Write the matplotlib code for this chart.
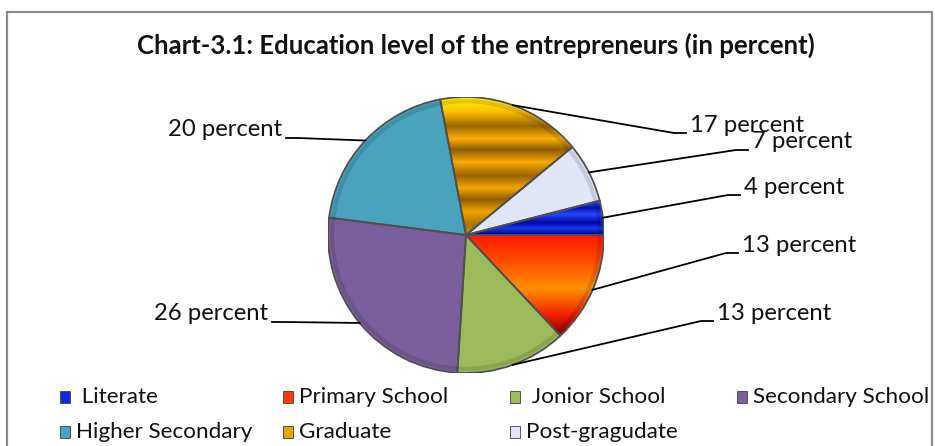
import numpy as np
import matplotlib
matplotlib.use("Agg")
import matplotlib.pyplot as plt
from matplotlib.patches import Rectangle, Wedge
from matplotlib.lines import Line2D
from matplotlib.colors import to_rgb

plt.rcParams['font.family'] = ['Lato', 'DejaVu Sans']

# Data
categories = ["Literate", "Primary School", "Jonior School", "Secondary School",
              "Higher Secondary", "Graduate", "Post-gragudate"]
legend_labels = [" Literate", "Primary School", " Jonior School", "Secondary School",
                 "Higher Secondary", "Graduate", "Post-gragudate"]
percent = [4, 13, 13, 26, 20, 17, 7]
title = "Chart-3.1: Education level of the entrepreneurs (in percent)"

# Style
colors = ["#1028e0", "#ff3a00", "#9bbb59", "#7b5f9c", "#4aa3bd", "#e8a400", "#e0e5f7"]
W, H = 935, 446
CX, CY, R = 466, 235, 138

# label text anchor (x, y centre) in pixels, and side
label_pos = [(744, 187, "left"), (742, 245, "left"), (717, 313, "left"),
             (268, 314, "right"), (282, 130, "right"), (690, 125, "left"),
             (752, 142, "left")]

# vertical colour stops (data y -> colour) for the shaded slices
shading = {
    0: [(0.25, "#4060ff"), (0.20, "#0010b8"), (0.15, "#2848ff"), (0.09, "#0008a0"),
        (0.05, "#1838f0"), (0.0, "#000080")],
    1: [(0.0, "#ff1800"), (-0.2, "#ff5000"), (-0.39, "#ff9000"), (-0.58, "#f02000"),
        (-0.73, "#8a0000")],
    5: [(1.0, "#fff200"), (0.9, "#ffc400"), (0.79, "#9a6600"), (0.7, "#ffb000"),
        (0.62, "#8c5c00"), (0.53, "#f8aa00"), (0.43, "#9a6400"), (0.34, "#f4a600"),
        (0.26, "#8e5e00"), (0.17, "#f0a400"), (0.07, "#a87000"), (0.0, "#d89600")],
}

fig = plt.figure(figsize=(W / 100, H / 100), dpi=100)


def fig_xy(px, py):
    return px / W, 1 - py / H


# outer frame
fig.add_artist(Rectangle((7 / W, -0.1), 925 / W, 1.1 - 12 / H, transform=fig.transFigure,
                         fill=False, edgecolor="#8c8c8c", linewidth=1.6))

fig.text(476 / W, 1 - 45 / H, title, ha="center", va="center",
         fontsize=18.5, fontweight="bold", color="#111111")

ax = fig.add_axes([(CX - R) / W, 1 - (CY + R) / H, 2 * R / W, 2 * R / H])
start = percent[0] / sum(percent) * 360
wedges, _ = ax.pie(percent, startangle=start, counterclock=False, colors=colors,
                   wedgeprops=dict(edgecolor="none"))

# shaded fills clipped to their slices
ys = np.linspace(1, -1, 400)
for i, stops in shading.items():
    sy = [s[0] for s in stops][::-1]
    sc = np.array([to_rgb(s[1]) for s in stops])[::-1]
    img = np.stack([np.interp(ys, sy, sc[:, k]) for k in range(3)], axis=-1)[:, None, :]
    im = ax.imshow(img, extent=[-1, 1, -1, 1], aspect="auto", zorder=2,
                   interpolation="bilinear")
    im.set_clip_path(wedges[i])

for w in wedges:
    ax.add_patch(Wedge(w.center, w.r, w.theta1, w.theta2, fill=False,
                       edgecolor="#505050", linewidth=1.3, zorder=3))
    ax.add_patch(Wedge(w.center, w.r * 0.985, w.theta1, w.theta2, width=0.03,
                       facecolor="#000000", alpha=0.12, edgecolor="none", zorder=3))

ax.set_xlim(-1, 1)
ax.set_ylim(-1, 1)
ax.axis("off")
ax.apply_aspect()

# data labels with leader lines
to_fig = fig.transFigure.inverted()
for w, v, (tx, ty, side) in zip(wedges, percent, label_pos):
    mid = np.deg2rad((w.theta1 + w.theta2) / 2)
    ax_pt = ax.transData.transform((np.cos(mid), np.sin(mid)))
    ax_pt = to_fig.transform(ax_pt)
    ly = ty + 8
    if side == "left":
        knee, end = fig_xy(tx - 16, ly), fig_xy(tx - 4, ly)
    else:
        knee, end = fig_xy(tx + 16, ly), fig_xy(tx + 4, ly)
    fig.add_artist(Line2D([ax_pt[0], knee[0], end[0]], [ax_pt[1], knee[1], end[1]],
                          transform=fig.transFigure, color="black", linewidth=1.3))
    x, y = fig_xy(tx, ty)
    fig.text(x, y, f"{v} percent", ha=side, va="center", fontsize=17.2, color="#111111")

# legend
cols = [60, 283, 510, 737]
rows = [397, 432]
for k, (lab, c) in enumerate(zip(legend_labels, colors)):
    mx, my = cols[k % 4], rows[k // 4]
    x0, y0 = fig_xy(mx, my + 6)
    fig.add_artist(Rectangle((x0, y0), 10 / W, 12 / H, transform=fig.transFigure,
                             facecolor=c, edgecolor="#404040", linewidth=0.6))
    x, y = fig_xy(mx + 16, my)
    fig.text(x, y, lab, ha="left", va="center", fontsize=16.2, color="#111111")

fig.savefig("out.png", dpi=100)
